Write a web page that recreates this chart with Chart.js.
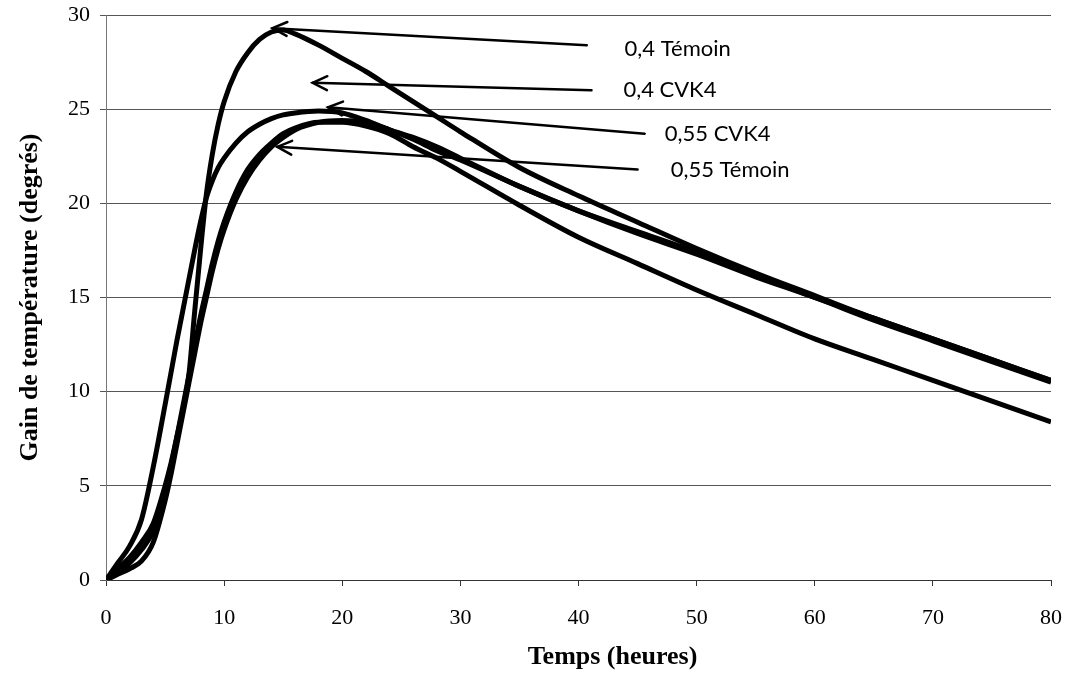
<!DOCTYPE html>
<html>
<head>
<meta charset="utf-8">
<script src="https://cdn.jsdelivr.net/npm/chart.js@4.4.1/dist/chart.umd.min.js"></script>
<style>
  body { margin: 0; background: #fff; }
  #wrap { width: 1068px; height: 673px; }
</style>
</head>
<body>
<div id="wrap"><canvas id="tempChart" width="1068" height="673"></canvas></div>
<script>
// Time axis (hours) shared by all curves
const hours = [0, 1, 2, 3, 4, 5, 5.5, 6, 6.5, 7, 7.5, 8, 8.5, 9, 9.5, 10, 11, 12, 13, 14, 15, 16,
    18, 20, 22, 24, 26, 28, 30, 35, 40, 45, 50, 55, 60, 65, 70, 75, 80];

// Temperature gain (degrees)
const temoin04 = [0, 0.6, 1.2, 2.0, 3.0, 5.0, 6.2, 7.6, 9.0, 10.8, 14.2, 17.5, 20.5, 22.6, 24.2, 25.4, 27.0, 28.0, 28.7, 29.1, 29.2, 29.0,
    28.4, 27.7, 27.0, 26.2, 25.4, 24.6, 23.8, 21.9, 20.4, 19.0, 17.6, 16.3, 15.1, 13.9, 12.8, 11.7, 10.6];
const cvk4055 = [0, 0.9, 1.8, 3.2, 6.0, 9.3, 11.0, 12.7, 14.3, 15.9, 17.5, 19.0, 20.3, 21.2, 21.9, 22.4, 23.2, 23.8, 24.2, 24.5, 24.7, 24.8,
    24.9, 24.8, 24.4, 23.9, 23.5, 23.0, 22.4, 20.9, 19.6, 18.5, 17.4, 16.2, 15.0, 13.9, 12.8, 11.7, 10.6];
const cvk404 = [0, 0.3, 0.6, 1.0, 2.0, 4.2, 5.6, 7.2, 8.8, 10.4, 12.0, 13.6, 15.0, 16.4, 17.6, 18.6, 20.2, 21.4, 22.3, 23.0, 23.5, 23.9,
    24.3, 24.4, 24.3, 23.9, 23.4, 22.8, 22.3, 20.9, 19.6, 18.4, 17.3, 16.1, 15.0, 13.8, 12.7, 11.6, 10.5];
const temoin055 = [0, 0.4, 0.9, 1.6, 2.6, 4.6, 6.0, 7.6, 9.2, 10.8, 12.4, 14.0, 15.4, 16.8, 18.0, 19.0, 20.6, 21.8, 22.6, 23.2, 23.7, 24.0,
    24.3, 24.3, 24.1, 23.7, 23.0, 22.4, 21.7, 19.9, 18.2, 16.8, 15.4, 14.1, 12.8, 11.7, 10.6, 9.5, 8.4];

const xTicks = [0, 10, 20, 30, 40, 50, 60, 70, 80];
const yTicks = [0, 5, 10, 15, 20, 25, 30];

// Callout labels with arrows (tip on the curve, tail near the text), in data units
const callouts = [
    { text: '0,4 Témoin', tip: [14.1, 29.3], tail: [40.7, 28.4], at: [43.9, 28.2] },
    { text: '0,4 CVK4', tip: [17.5, 26.4], tail: [41.1, 26.0], at: [43.8, 26.0] },
    { text: '0,55 CVK4', tip: [18.8, 25.1], tail: [45.6, 23.7], at: [47.3, 23.7] },
    { text: '0,55 Témoin', tip: [14.5, 23.0], tail: [45.0, 21.8], at: [47.8, 21.8] }
];

function pairs(ys) {
    return hours.map((h, i) => ({ x: h, y: ys[i] }));
}

function curve(label, ys) {
    return {
        label: label,
        data: pairs(ys),
        borderColor: '#000',
        borderWidth: 5,
        pointRadius: 0,
        fill: false,
        cubicInterpolationMode: 'monotone'
    };
}

const calloutPlugin = {
    id: 'callouts',
    afterDatasetsDraw(chart) {
        const ctx = chart.ctx;
        const xs = chart.scales.x, ys = chart.scales.y;
        ctx.save();
        ctx.strokeStyle = '#000';
        ctx.fillStyle = '#000';
        ctx.lineWidth = 2.5;
        ctx.lineCap = 'round';
        callouts.forEach(c => {
            const tx = xs.getPixelForValue(c.tip[0]), ty = ys.getPixelForValue(c.tip[1]);
            const ex = xs.getPixelForValue(c.tail[0]), ey = ys.getPixelForValue(c.tail[1]);
            ctx.beginPath();
            ctx.moveTo(ex, ey);
            ctx.lineTo(tx, ty);
            ctx.stroke();
            // open arrow head
            const ang = Math.atan2(ey - ty, ex - tx);
            const len = 16;
            ctx.beginPath();
            ctx.moveTo(tx + len * Math.cos(ang - 0.45), ty + len * Math.sin(ang - 0.45));
            ctx.lineTo(tx, ty);
            ctx.lineTo(tx + len * Math.cos(ang + 0.45), ty + len * Math.sin(ang + 0.45));
            ctx.stroke();
            ctx.font = '22px Lato';
            ctx.textAlign = 'left';
            ctx.textBaseline = 'middle';
            ctx.fillText(c.text, xs.getPixelForValue(c.at[0]), ys.getPixelForValue(c.at[1]));
        });
        // x axis title
        ctx.font = 'bold 26px "Liberation Serif"';
        ctx.textAlign = 'center';
        ctx.textBaseline = 'middle';
        const area = chart.chartArea;
        ctx.fillText('Temps (heures)', (area.left + area.right) / 2 + 34, 657);
        ctx.restore();
    }
};

const ctx = document.getElementById('tempChart').getContext('2d');
new Chart(ctx, {
    type: 'line',
    data: {
        datasets: [
            curve('0,4 Témoin', temoin04),
            curve('0,55 CVK4', cvk4055),
            curve('0,4 CVK4', cvk404),
            curve('0,55 Témoin', temoin055)
        ]
    },
    options: {
        responsive: false,
        animation: false,
        layout: { padding: { top: 15, right: 17, left: 0, bottom: 0 } },
        plugins: {
            legend: { display: false },
            tooltip: { enabled: false }
        },
        scales: {
            x: {
                type: 'linear',
                min: 0,
                max: 80,
                afterFit: s => { s.height = 93; s.paddingLeft = 0; s.paddingRight = 0; },
                afterBuildTicks: s => { s.ticks = xTicks.map(v => ({ value: v })); },
                grid: { drawOnChartArea: false, drawTicks: true, tickLength: 6, color: '#333' },
                border: { color: '#333', width: 1 },
                ticks: {
                    color: '#000',
                    padding: 19,
                    maxRotation: 0,
                    font: { family: '"Liberation Serif"', size: 22 }
                }
            },
            y: {
                min: 0,
                max: 30,
                afterFit: s => { s.width = 106; s.paddingTop = 0; s.paddingBottom = 0; },
                afterBuildTicks: s => { s.ticks = yTicks.map(v => ({ value: v })); },
                grid: { color: '#555', lineWidth: 1, drawTicks: true, tickLength: 6 },
                border: { color: '#777', width: 1 },
                ticks: {
                    color: '#000',
                    padding: 10,
                    font: { family: '"Liberation Serif"', size: 22 }
                },
                title: {
                    display: true,
                    text: 'Gain de température (degrés)',
                    color: '#000',
                    padding: { top: 15 },
                    font: { family: '"Liberation Serif"', size: 26, weight: 'bold' }
                }
            }
        }
    },
    plugins: [calloutPlugin]
});
</script>
</body>
</html>
